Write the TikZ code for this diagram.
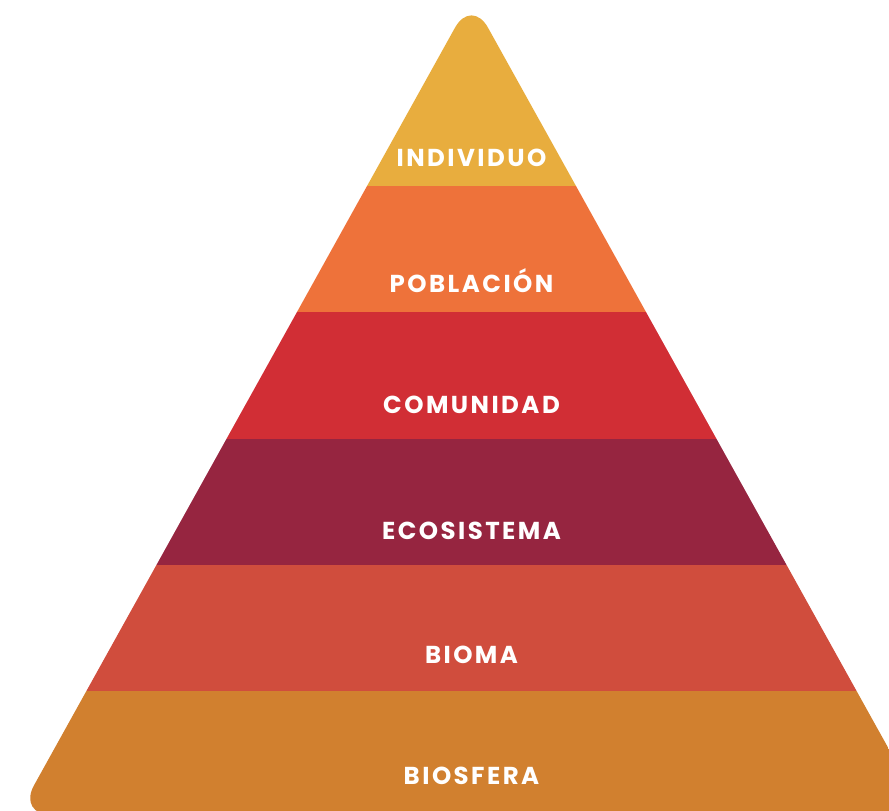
\documentclass[tikz,border=0pt]{standalone}
\usepackage{fontspec}
\newfontfamily\levelfont{Poppins}[LetterSpace=10]
\usepackage{xcolor}
\definecolor{individuoGold}{HTML}{E8AD3E}
\definecolor{poblacionOrange}{HTML}{EE723A}
\definecolor{comunidadRed}{HTML}{D12E35}
\definecolor{ecosistemaWine}{HTML}{962540}
\definecolor{biomaBrick}{HTML}{D04D3D}
\definecolor{biosferaOchre}{HTML}{D1802F}
\usepackage{tikz}
\usetikzlibrary{calc}
\tikzset{%
  levelLabel/.style={
    text=white, font=\levelfont\bfseries\fontsize{24.5}{28}\selectfont,
    inner sep=0pt, anchor=center},
  bandFill/.style={draw=none},
}

\begin{document}
\begin{tikzpicture}[x=1pt,y=1pt]
  \clip (0,0) rectangle (889,811);
  % pyramid outline: apex and base corners
  \coordinate (apex) at (471.5,813);
  \coordinate (baseL) at (17.5,-4);
  \coordinate (baseR) at (925.5,-4);
  \begin{scope}
    \clip[rounded corners=34pt] (apex) -- (baseL) -- (baseR) -- cycle;
    \fill[bandFill, individuoGold]  (0,625) rectangle (950,830);
    \fill[bandFill, poblacionOrange] (0,499) rectangle (950,625);
    \fill[bandFill, comunidadRed]   (0,372) rectangle (950,499);
    \fill[bandFill, ecosistemaWine] (0,246) rectangle (950,372);
    \fill[bandFill, biomaBrick]     (0,120) rectangle (950,246);
    \fill[bandFill, biosferaOchre]  (0,-10) rectangle (950,120);
  \end{scope}
  \node[levelLabel] (individuo)  at (471.5,653) {INDIVIDUO};
  \node[levelLabel] (poblacion)  at (471.5,530) {POBLACIÓN};
  \node[levelLabel] (comunidad)  at (471.5,406) {COMUNIDAD};
  \node[levelLabel] (ecosistema) at (471.5,280) {ECOSISTEMA};
  \node[levelLabel] (bioma)      at (471.5,156) {BIOMA};
  \node[levelLabel] (biosfera)   at (471.5,35)  {BIOSFERA};
\end{tikzpicture}
\end{document}
